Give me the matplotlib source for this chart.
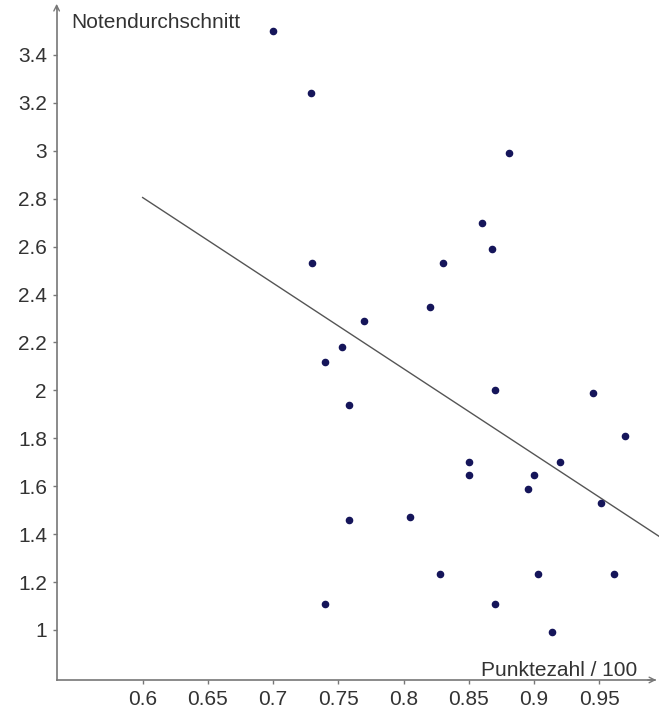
import numpy as np
import matplotlib.pyplot as plt
from matplotlib.ticker import FormatStrFormatter, FuncFormatter

# Punktezahl / 100 vs. Notendurchschnitt
punkte = [0.700, 0.729, 0.881, 0.860, 0.868, 0.730, 0.830, 0.820, 0.770, 0.753,
          0.740, 0.758, 0.870, 0.945, 0.970, 0.850, 0.850, 0.920, 0.900, 0.895,
          0.951, 0.758, 0.805, 0.828, 0.903, 0.961, 0.740, 0.870, 0.914]
noten = [3.50, 3.24, 2.99, 2.70, 2.59, 2.53, 2.53, 2.35, 2.29, 2.18,
         2.12, 1.94, 2.00, 1.99, 1.81, 1.70, 1.645, 1.70, 1.645, 1.59,
         1.53, 1.46, 1.47, 1.235, 1.235, 1.235, 1.11, 1.11, 0.99]

# regression line as drawn
line_x = [0.600, 0.996]
line_y = [2.805, 1.390]

xticks = [0.6, 0.65, 0.7, 0.75, 0.8, 0.85, 0.9, 0.95]
yticks = [1, 1.2, 1.4, 1.6, 1.8, 2, 2.2, 2.4, 2.6, 2.8, 3, 3.2, 3.4]

plt.rcParams['font.family'] = ['Liberation Sans', 'DejaVu Sans']
txt = '#333333'
axc = '#777777'

fig = plt.figure(figsize=(6.59, 7.11), dpi=100)
ax = fig.add_axes([0, 0, 1, 1])
ax.set_xlim(0.4907, 0.9957)
ax.set_ylim(0.6619, 3.6294)

x0, y0 = 0.5341, 0.7914  # where the axes cross

for s in ['top', 'right']:
    ax.spines[s].set_visible(False)
ax.spines['left'].set_position(('data', x0))
ax.spines['bottom'].set_position(('data', y0))
ax.spines['left'].set_bounds(y0, 3.60)
ax.spines['bottom'].set_bounds(x0, 0.993)
for s in ['left', 'bottom']:
    ax.spines[s].set_color(axc)
    ax.spines[s].set_linewidth(1.2)

ax.set_xticks(xticks)
ax.set_yticks(yticks)
ax.xaxis.set_major_formatter(FuncFormatter(lambda v, p: f"{v:g}"))
ax.yaxis.set_major_formatter(FuncFormatter(lambda v, p: f"{v:g}"))
ax.tick_params(axis='both', colors=axc, labelcolor=txt, labelsize=15,
               length=3, width=1)
ax.tick_params(axis='x', pad=4)
ax.tick_params(axis='y', pad=4)

# arrow heads
ax.annotate('', xy=(x0, 3.625), xytext=(x0, 3.58),
            arrowprops=dict(arrowstyle='->', color=axc, lw=1.0,
                            mutation_scale=10))
ax.annotate('', xy=(0.9957, y0), xytext=(0.985, y0),
            arrowprops=dict(arrowstyle='->', color=axc, lw=1.0,
                            mutation_scale=10))

ax.plot(line_x, line_y, color='#555555', linewidth=1.0, clip_on=True)
ax.scatter(punkte, noten, s=20, color='#15155a', zorder=3)

ax.text(0.5451, 3.575, 'Notendurchschnitt', ha='left', va='top',
        fontsize=15, color=txt)
ax.text(0.9788, 0.8081, 'Punktezahl / 100', ha='right', va='baseline',
        fontsize=15, color=txt)

fig.savefig('out.png', dpi=100)
